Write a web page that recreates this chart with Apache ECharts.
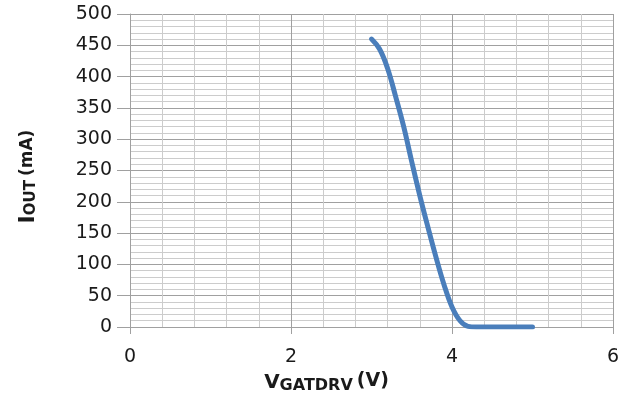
<!DOCTYPE html>
<html>
<head>
<meta charset="utf-8">
<script src="https://cdn.jsdelivr.net/npm/echarts@6/dist/echarts.min.js"></script>
<style>html,body{margin:0;padding:0;background:#fff;}#c{width:630px;height:401px;}</style>
</head>
<body>
<div id="c"></div>
<script>
const vGate = [3.0, 3.1, 3.2, 3.3, 3.4, 3.5, 3.6, 3.7, 3.8, 3.9, 4.0, 4.1, 4.2, 4.3, 4.5, 4.7, 5.0];
const iOut  = [460, 444, 413, 368, 320, 264, 210, 160, 112, 68, 32, 10, 1, 0, 0, 0, 0];
const xTicks = [0, 2, 4, 6];
const yTicks = [0, 50, 100, 150, 200, 250, 300, 350, 400, 450, 500];

const chart = echarts.init(document.getElementById('c'));
const font = 'DejaVu Sans, Verdana, sans-serif';
chart.setOption({
  animation: false,
  grid: { left: 130, right: 17, top: 14, bottom: 74, containLabel: false },
  xAxis: {
    type: 'value', min: xTicks[0], max: xTicks[xTicks.length - 1], interval: 2,
    axisLine: { show: true, lineStyle: { color: '#a0a0a0', width: 1 } },
    axisTick: { show: true, length: 7, lineStyle: { color: '#a0a0a0' } },
    axisLabel: { margin: 21, fontSize: 19, color: '#1a1a1a', fontFamily: font },
    splitLine: { show: true, lineStyle: { color: '#a0a0a0', width: 1 } },
    minorTick: { show: false, splitNumber: 5 },
    minorSplitLine: { show: true, lineStyle: { color: '#cccccc', width: 1 } },
    name: '{big|V}{sub|GATDRV}{par|(V)}',
    nameLocation: 'middle', nameGap: 44,
    nameTextStyle: {
      fontFamily: font, color: '#1a1a1a', padding: [0, 90, 0, 0],
      rich: {
        big: { fontSize: 20, fontWeight: 'bold', lineHeight: 22, verticalAlign: 'middle', fontFamily: font },
        sub: { fontSize: 16, fontWeight: 'bold', lineHeight: 15, verticalAlign: 'bottom', fontFamily: font },
        par: { fontSize: 19, fontWeight: 'bold', lineHeight: 19, verticalAlign: 'top', fontFamily: font, padding: [0, 0, 0, 4] }
      }
    }
  },
  yAxis: {
    type: 'value', min: yTicks[0], max: yTicks[yTicks.length - 1], interval: 50,
    axisLine: { show: true, lineStyle: { color: '#a0a0a0', width: 1 } },
    axisTick: { show: true, length: 13, lineStyle: { color: '#a0a0a0' } },
    axisLabel: { margin: 18, fontSize: 19, color: '#1a1a1a', fontFamily: font },
    splitLine: { show: true, lineStyle: { color: '#a0a0a0', width: 1 } },
    minorTick: { show: false, splitNumber: 5 },
    minorSplitLine: { show: true, lineStyle: { color: '#cccccc', width: 1 } },
    name: '{big|I}{sub|OUT}{par|(mA)}',
    nameLocation: 'middle', nameGap: 91, nameRotate: 90,
    nameTextStyle: {
      fontFamily: font, color: '#1a1a1a', padding: [0, 12, 0, 0],
      rich: {
        big: { fontSize: 22, fontWeight: 'bold', lineHeight: 22, verticalAlign: 'middle', fontFamily: font },
        sub: { fontSize: 15, fontWeight: 'bold', lineHeight: 15, verticalAlign: 'bottom', fontFamily: font },
        par: { fontSize: 17, fontWeight: 'bold', lineHeight: 17, verticalAlign: 'middle', fontFamily: font, padding: [0, 0, 0, 4] }
      }
    }
  },
  series: [{
    type: 'line', smooth: 0.4, symbol: 'none',
    data: vGate.map((v, i) => [v, iOut[i]]),
    lineStyle: { color: '#4a7ebb', width: 5, cap: 'round' }
  }]
});
</script>
</body>
</html>
